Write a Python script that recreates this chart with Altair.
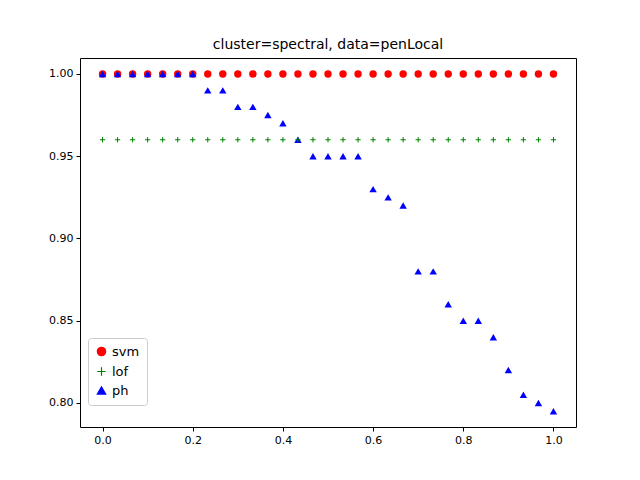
import altair as alt
import pandas as pd

xs = [i / 30 for i in range(31)]
svm = [1.0] * 31
lof = [0.96] * 31
ph = [1.0, 1.0, 1.0, 1.0, 1.0, 1.0, 1.0, 0.99, 0.99, 0.98, 0.98, 0.975, 0.97, 0.96,
      0.95, 0.95, 0.95, 0.95, 0.93, 0.925, 0.92, 0.88, 0.88, 0.86, 0.85, 0.85, 0.84,
      0.82, 0.805, 0.80, 0.795]
series = ["svm", "lof", "ph"]

df = pd.DataFrame({
    "x": xs * 3,
    "y": svm + lof + ph,
    "series": ["svm"] * 31 + ["lof"] * 31 + ["ph"] * 31,
})

plus = "M-1,0L1,0M0,-1L0,1"
color = alt.Color("series:N", scale=alt.Scale(domain=series, range=["red", "green", "blue"]),
                  legend=alt.Legend(title=None, orient="none", legendX=8, legendY=280,
                                    fillColor="white", strokeColor="#cccccc", padding=7,
                                    cornerRadius=3, labelFontSize=13, symbolSize=70,
                                    rowPadding=5, symbolStrokeWidth=1.2))
shape = alt.Shape("series:N", scale=alt.Scale(domain=series, range=["circle", plus, "triangle-up"]))

base = alt.Chart(df).encode(
    x=alt.X("x:Q", scale=alt.Scale(domain=[-0.05, 1.05], nice=False, zero=False),
            axis=alt.Axis(values=[0, 0.2, 0.4, 0.6, 0.8, 1.0], format=".1f", title=None)),
    y=alt.Y("y:Q", scale=alt.Scale(domain=[0.7854, 1.0097], nice=False, zero=False),
            axis=alt.Axis(values=[0.80, 0.85, 0.90, 0.95, 1.00], format=".2f", title=None)),
    color=color,
    shape=shape,
)

filled = base.transform_filter(alt.datum.series != "lof").mark_point(filled=True, opacity=1, size=55)
crosses = base.transform_filter(alt.datum.series == "lof").mark_point(filled=False, opacity=1, size=28, strokeWidth=1)

chart = alt.layer(filled, crosses).properties(
    width=496, height=369,
    title=alt.TitleParams("cluster=spectral, data=penLocal", fontSize=14, fontWeight="normal", offset=6),
    autosize=alt.AutoSizeParams(type="none"),
    padding={"left": 72, "top": 50, "right": 56, "bottom": 45},
).configure(font="DejaVu Sans").configure_view(stroke="black", strokeWidth=1).configure_axis(
    grid=False, domain=False, tickColor="black", labelColor="black", labelFontSize=11,
    tickSize=4, labelPadding=3
)

chart.save("out.html", embed_options={"renderer": "svg", "actions": False})
